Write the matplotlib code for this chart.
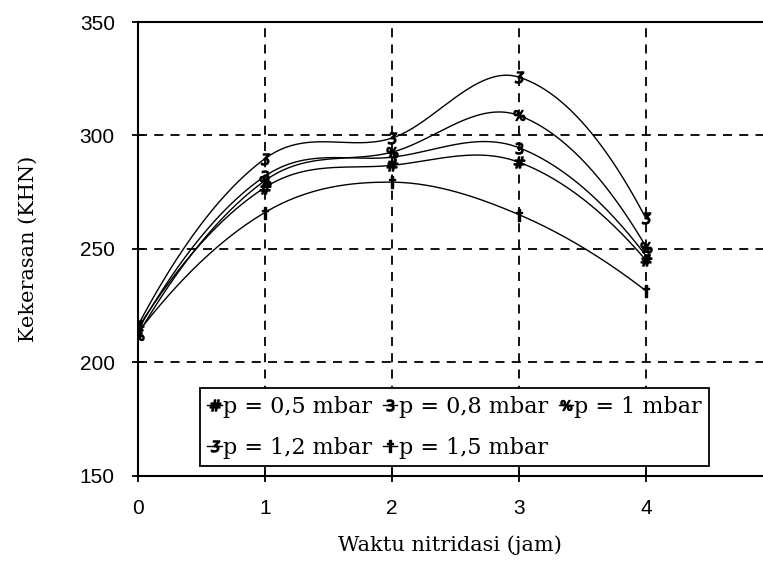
import numpy as np
import matplotlib
matplotlib.use("Agg")
import matplotlib.pyplot as plt
from matplotlib.lines import Line2D

# ---- data ----
waktu = [0, 1, 2, 3, 4]
p05 = [215, 277, 286.8, 288.2, 245]
p08 = [214, 282, 290.4, 294.6, 247]
p10 = [212, 280, 292.6, 308.8, 251]
p12 = [216, 289.7, 298.8, 325.7, 263.4]
p15 = [213, 266, 279.4, 265.1, 231.5]
labels = ["p = 0,5 mbar", "p = 0,8 mbar", "p = 1 mbar", "p = 1,2 mbar", "p = 1,5 mbar"]
markers = [r"$\#$", r"$3$", r"$\%$", r"$ʒ$", r"$\dagger$"]
xticks = [0, 1, 2, 3, 4]
yticks = [150, 200, 250, 300, 350]

W, H = 763, 562
fig = plt.figure(figsize=(W / 100, H / 100), dpi=100)
ax_l, ax_r, ax_t, ax_b = 137.7, 763.0, 22.0, 475.7
ax = fig.add_axes([ax_l / W, 1 - ax_b / H, (ax_r - ax_l) / W, (ax_b - ax_t) / H])
xmax = 4 + (763 - 646) / 127.0
ax.set_xlim(0, xmax)
ax.set_ylim(150, 350)


def smooth(xs, ys, n=50):
    """Bezier smoothing (Excel-like): Catmull-Rom tangents inside, parabolic end segments."""
    P = np.column_stack([np.asarray(xs, float), np.asarray(ys, float)])
    m = len(P)
    T = [None] * m
    for i in range(1, m - 1):
        T[i] = (P[i + 1] - P[i - 1]) / 2.0
    out = []
    t = np.linspace(0, 1, n)[:, None]
    for i in range(m - 1):
        p1, p2 = P[i], P[i + 1]
        if i == 0:
            c2 = p2 - T[i + 1] / 3.0
            Q = p2 - T[i + 1] / 2.0
            c1 = p1 + 2.0 / 3.0 * (Q - p1)
        elif i == m - 2:
            c1 = p1 + T[i] / 3.0
            Q = p1 + T[i] / 2.0
            c2 = p2 + 2.0 / 3.0 * (Q - p2)
        else:
            c1 = p1 + T[i] / 3.0
            c2 = p2 - T[i + 1] / 3.0
        seg = ((1 - t) ** 3) * p1 + 3 * ((1 - t) ** 2) * t * c1 + 3 * (1 - t) * t ** 2 * c2 + t ** 3 * p2
        out.append(seg if i == 0 else seg[1:])
    out = np.vstack(out)
    return out[:, 0], out[:, 1]


series = [p05, p08, p10, p12, p15]
handles = []
for ys, lab, mk in zip(series, labels, markers):
    cx, cy = smooth(waktu, ys)
    ax.plot(cx, cy, color="black", lw=1.0, zorder=3)
    ax.plot(waktu, ys, linestyle="none", marker=mk, markersize=8, color="black", zorder=4)
    handles.append(Line2D([], [], color="black", lw=1.0, marker=mk, markersize=8, label=lab))

ax.set_xticks(xticks)
ax.set_yticks(yticks)
ax.grid(True, color="black", linestyle=(0, (5, 4)), linewidth=1.3)
for s in ["left", "bottom", "top"]:
    ax.spines[s].set_linewidth(1.5)
ax.spines["right"].set_visible(False)
ax.tick_params(direction="inout", length=9, width=1.3, top=False, right=False)
ax.tick_params(axis="x", pad=12)
ax.tick_params(axis="y", pad=12)
for lab in ax.get_xticklabels() + ax.get_yticklabels():
    lab.set_fontfamily("Liberation Sans")
    lab.set_fontsize(15)

ax.set_xlabel("Waktu nitridasi (jam)", fontfamily="DejaVu Serif", fontsize=15, labelpad=13)
ax.set_ylabel("Kekerasan (KHN)", fontfamily="DejaVu Serif", fontsize=15, labelpad=30)

# row-major legend order: matplotlib fills columns first
order = [0, 3, 1, 4, 2]
leg = ax.legend(handles=[handles[i] for i in order], ncol=3, loc="lower left",
                bbox_to_anchor=((200 - ax_l) / (ax_r - ax_l), (ax_b - 466) / (ax_b - ax_t)),
                borderaxespad=0, frameon=True, fancybox=False, edgecolor="black",
                framealpha=1, prop={"family": "DejaVu Serif", "size": 16},
                handlelength=0.65, handletextpad=0.05, columnspacing=0.5,
                labelspacing=0.85, borderpad=0.33)
leg.get_frame().set_linewidth(1.3)
leg.set_zorder(5)

fig.savefig("out.png", dpi=100, facecolor="white")
